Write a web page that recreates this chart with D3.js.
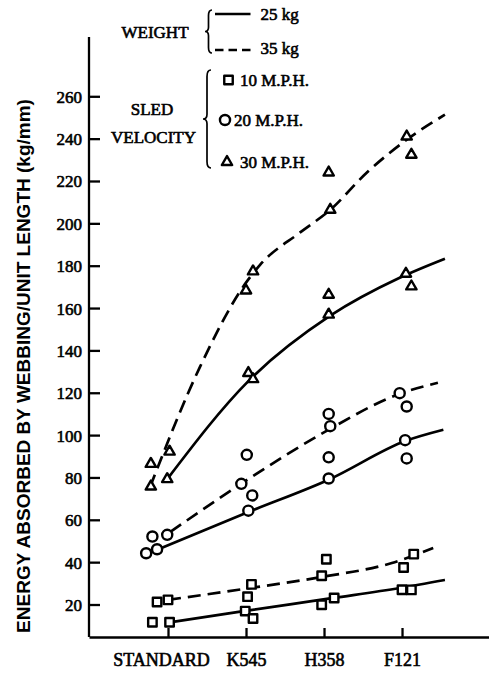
<!DOCTYPE html>
<html>
<head>
<meta charset="utf-8">
<script src="https://cdn.jsdelivr.net/npm/d3@7"></script>
<style>
  body { margin: 0; background: #fff; }
  svg { display: block; background: #fff; }
  .serif { font-family: "Liberation Serif", "Times New Roman", serif; fill: #000; stroke: #000; stroke-width: 0.6px; }
  .sans { font-family: "Liberation Sans", Arial, sans-serif; font-weight: bold; fill: #000; }
</style>
</head>
<body>
<svg id="chart" width="489" height="673"></svg>
<script>
// ---- data ----------------------------------------------------------
const categories = ["STANDARD", "K545", "H358", "F121"];
const yTickValues = [20, 40, 60, 80, 100, 120, 140, 160, 180, 200, 220, 240, 260];
const yTitle = "ENERGY ABSORBED BY WEBBING/UNIT LENGTH (kg/mm)";
const weightLabels = ["25 kg", "35 kg"];
const velocityLabels = ["10 M.P.H.", "20 M.P.H.", "30 M.P.H."];
const weightTitle = "WEIGHT";
const velocityTitle = ["SLED", "VELOCITY"];

// Replicate measurements: [position along the webbing axis (category index), energy kg/mm]
const mph10Points = [
  [-0.14, 21.2], [0.00, 22.2], [-0.20, 11.6], [0.02, 11.6],
  [1.07, 29.5], [1.02, 23.7], [0.99, 16.9], [1.09, 13.4],
  [2.03, 41.4], [1.97, 33.6], [1.97, 19.9], [2.13, 23.1],
  [3.15, 43.8], [3.02, 37.5], [3.00, 27.0], [3.12, 26.9]
];
const mph20Points = [
  [-0.20, 52.1], [-0.01, 52.9], [-0.28, 44.2], [-0.14, 46.1],
  [1.01, 90.7], [0.94, 77.0], [1.08, 71.5], [1.03, 64.3],
  [2.06, 110.0], [2.08, 104.2], [2.06, 89.5], [2.06, 79.5],
  [2.97, 119.8], [3.06, 113.5], [3.04, 97.6], [3.06, 89.0]
];
const mph30Points = [
  [-0.22, 86.4], [0.02, 92.2], [-0.22, 75.7], [-0.01, 79.2],
  [1.09, 177.3], [1.00, 168.3], [1.03, 129.3], [1.09, 126.4],
  [2.06, 224.0], [2.08, 206.4], [2.06, 166.3], [2.06, 156.9],
  [3.06, 241.0], [3.12, 232.4], [3.05, 176.2], [3.12, 170.2]
];

// Faired curves through the measurements: [category index, energy]
const fit10kg25 = [[0.02, 11.6], [0.99, 17.0], [2.12, 23.1], [2.97, 27.8], [3.55, 31.6]];
const fit10kg35 = [[0.00, 22.2], [1.00, 27.5], [1.97, 33.0], [2.87, 39.6], [3.40, 46.7]];
const fit20kg25 = [[-0.13, 46.0], [1.03, 63.7], [2.08, 79.3], [3.05, 97.3], [3.53, 102.5]];
const fit20kg35 = [[0.03, 54.3], [1.00, 78.5], [2.01, 101.5], [2.97, 119.5], [3.46, 124.7]];
const fit30kg25 = [[-0.01, 79.2], [1.03, 125.5], [2.08, 156.4], [2.97, 174.3], [3.55, 183.3]];
const fit30kg35 = [[-0.23, 75.5], [0.41, 132.2], [1.00, 172.0], [1.18, 180.4], [1.69, 195.6], [2.08, 206.4], [2.55, 224.0], [3.06, 239.5], [3.55, 251.3]];

// ---- layout --------------------------------------------------------
const svg = d3.select("#chart");
const axisX0 = 89, axisX1 = 489, axisY = 637, axisTop = 37;

const x = d3.scaleLinear().domain([-1.0128, 4.115]).range([axisX0, axisX1]);
const y = d3.scaleLinear().domain([5.6, 288]).range([635, axisTop]);

const ink = "#000";

// ---- axes ----------------------------------------------------------
const yAxis = d3.axisLeft(y).tickValues(yTickValues).tickSizeInner(-11).tickSizeOuter(0).tickPadding(7);
const gy = svg.append("g").attr("transform", `translate(${axisX0},0)`).call(yAxis);
gy.select(".domain").attr("stroke", ink).attr("stroke-width", 2.3).attr("d", `M0,${axisY}V${axisTop}`);
gy.selectAll(".tick line").attr("stroke", ink).attr("stroke-width", 2.3);
gy.selectAll(".tick text").attr("class", "serif").style("font-size", "17px").attr("dy", "0.35em");

const xAxis = d3.axisBottom(x).tickValues([0, 1, 2, 3]).tickFormat(i => categories[i]).tickSizeInner(-9).tickSizeOuter(0).tickPadding(0);
const gx = svg.append("g").attr("transform", `translate(0,${axisY})`).call(xAxis);
gx.select(".domain").attr("stroke", ink).attr("stroke-width", 2.3);
gx.selectAll(".tick line").attr("stroke", ink).attr("stroke-width", 2.3);
gx.selectAll(".tick text").attr("class", "serif").style("font-size", "18px")
  .attr("y", 29).attr("dy", 0)
  .attr("dx", (d, i) => i === 0 ? -7 : 0);

// y title
svg.append("text").attr("class", "sans")
  .attr("transform", "translate(23,366) rotate(-90)")
  .attr("text-anchor", "middle").attr("dominant-baseline", "central")
  .style("font-size", "19px")
  .text(yTitle);

// ---- curves ----------------------------------------------------------
const line = d3.line().x(d => x(d[0])).y(d => y(d[1])).curve(d3.curveMonotoneX);
const dash = "13,7";
const curves = [
  { data: fit10kg25, dashed: false },
  { data: fit10kg35, dashed: true },
  { data: fit20kg25, dashed: false },
  { data: fit20kg35, dashed: true },
  { data: fit30kg25, dashed: false },
  { data: fit30kg35, dashed: true }
];
svg.append("g").selectAll("path").data(curves).join("path")
  .attr("d", c => line(c.data))
  .attr("fill", "none").attr("stroke", ink).attr("stroke-width", 2.7)
  .attr("stroke-dasharray", c => c.dashed ? dash : null);

// ---- markers ---------------------------------------------------------
const squareSym = d3.symbol().type(d3.symbolSquare).size(72);
const circleSym = d3.symbol().type(d3.symbolCircle).size(80);
const triangleSym = d3.symbol().type(d3.symbolTriangle).size(46);

function drawMarkers(points, sym) {
  svg.append("g").selectAll("path").data(points).join("path")
    .attr("transform", d => `translate(${x(d[0])},${y(d[1])})`)
    .attr("d", sym())
    .attr("fill", "#fff").attr("stroke", ink).attr("stroke-width", 2.4)
    .attr("stroke-linejoin", "round");
}
drawMarkers(mph10Points, squareSym);
drawMarkers(mph20Points, circleSym);
drawMarkers(mph30Points, triangleSym);

// ---- key -------------------------------------------------------------
function bracePath(xs, y0, y1, w) {
  const m = (y0 + y1) / 2;
  return `M${xs + w},${y0} Q${xs},${y0} ${xs},${y0 + w * 1.6} L${xs},${m - w * 1.2} Q${xs},${m} ${xs - w},${m}` +
         ` Q${xs},${m} ${xs},${m + w * 1.2} L${xs},${y1 - w * 1.6} Q${xs},${y1} ${xs + w},${y1}`;
}
const key = svg.append("g");
key.append("path").attr("d", bracePath(208.5, 10, 53, 3.5)).attr("fill", "none").attr("stroke", ink).attr("stroke-width", 1.7);
key.append("path").attr("d", bracePath(207, 70, 168, 4)).attr("fill", "none").attr("stroke", ink).attr("stroke-width", 1.7);

key.append("text").attr("class", "serif").style("font-size", "17px").attr("x", 121.5).attr("y", 38).text(weightTitle);
key.append("text").attr("class", "serif").style("font-size", "17px").attr("x", 152).attr("y", 115).attr("text-anchor", "middle").text(velocityTitle[0]);
key.append("text").attr("class", "serif").style("font-size", "17px").attr("x", 153.5).attr("y", 142.5).attr("text-anchor", "middle").text(velocityTitle[1]);

const weightRows = [{ y: 14, ty: 20, dashed: false }, { y: 50, ty: 54, dashed: true }];
weightRows.forEach((r, i) => {
  key.append("line").attr("x1", 215).attr("x2", 250.5).attr("y1", r.y).attr("y2", r.y)
    .attr("stroke", ink).attr("stroke-width", 2.5)
    .attr("stroke-dasharray", r.dashed ? "8.5,5" : null);
  key.append("text").attr("class", "serif").style("font-size", "17px").attr("x", 260.5).attr("y", r.ty).text(weightLabels[i]);
});

const velocityRows = [
  { sym: squareSym, mx: 228.5, my: 80, tx: 240, ty: 86 },
  { sym: circleSym, mx: 225, my: 120, tx: 234, ty: 126 },
  { sym: triangleSym, mx: 227, my: 162, tx: 240, ty: 168 }
];
velocityRows.forEach((r, i) => {
  key.append("path").attr("transform", `translate(${r.mx},${r.my})`).attr("d", r.sym())
    .attr("fill", "#fff").attr("stroke", ink).attr("stroke-width", 2.4).attr("stroke-linejoin", "round");
  key.append("text").attr("class", "serif").style("font-size", "17px").attr("x", r.tx).attr("y", r.ty).text(velocityLabels[i]);
});
</script>
</body>
</html>
